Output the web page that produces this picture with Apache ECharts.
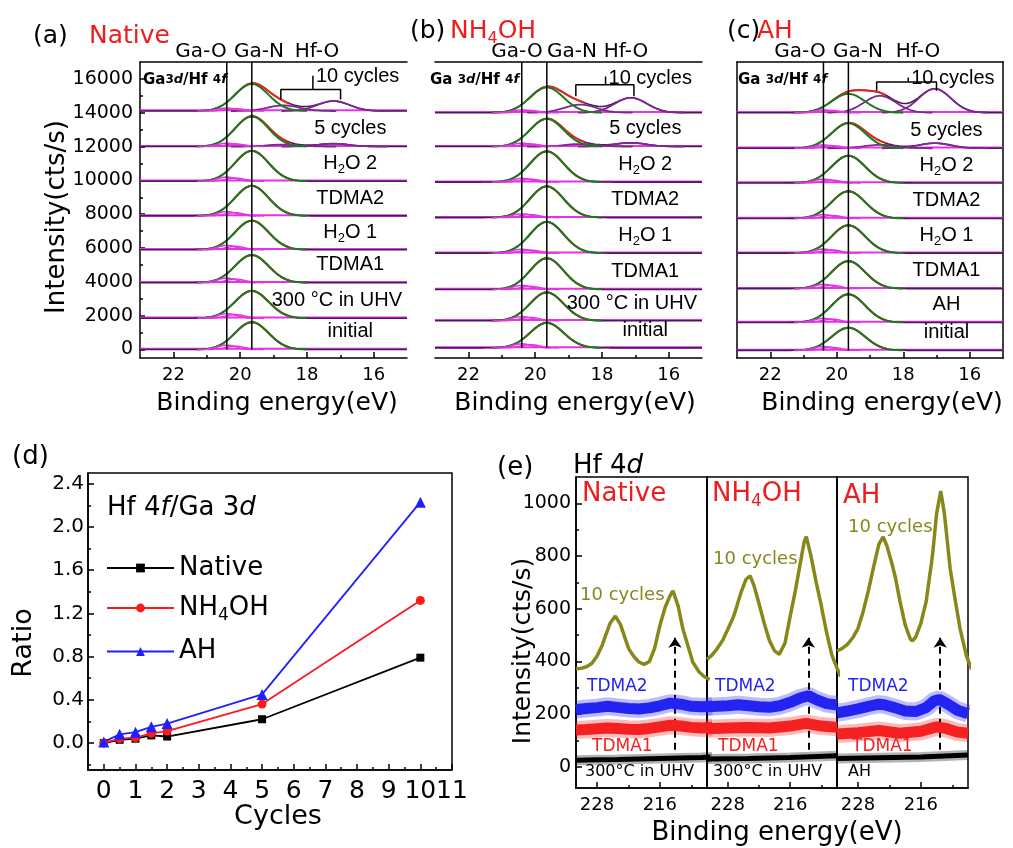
<!DOCTYPE html>
<html>
<head>
<meta charset="utf-8">
<title>Ga 3d / Hf 4f and Hf 4d spectra during HfO2 ALD on GaN</title>
<script src="https://cdn.jsdelivr.net/npm/echarts@6.0.0/dist/echarts.min.js"></script>
<style>
  html, body { margin: 0; padding: 0; background: #fff; }
  #chart { width: 1013px; height: 848px; }
</style>
</head>
<body>
<div id="chart"></div>
<script>
// ================= data =================

// (a)-(c): Ga 3d / Hf 4f core levels, one spectrum per process step (bottom to top)
const STEPS_UHV = ['initial', '300 °C in UHV', 'TDMA1', 'H2O 1', 'TDMA2', 'H2O 2', '5 cycles', '10 cycles'];
const STEPS_AH  = ['initial', 'AH', 'TDMA1', 'H2O 1', 'TDMA2', 'H2O 2', '5 cycles', '10 cycles'];

// stacking offset of each spectrum (cts/s)
const OFFSET_NATIVE = [0, 1850, 3950, 5900, 7900, 9950, 12000, 14100];
const OFFSET_NH4OH  = [100, 1700, 3550, 5700, 7800, 9900, 12000, 14000];
const OFFSET_AH     = [-50, 1600, 3600, 5700, 7750, 9850, 11900, 14000];

// fitted Ga-N component height (cts/s above the offset)
const GAN_NATIVE = [1620, 1620, 1640, 1720, 1780, 1800, 1780, 1600];
const GAN_NH4OH  = [1480, 1680, 1850, 1850, 1850, 1820, 1640, 1500];
const GAN_AH     = [1340, 1670, 1630, 1650, 1610, 1610, 1480, 1120];

// Ga-O components (two small contributions on the high binding-energy side)
const GAO_NATIVE  = [260, 280, 280, 260, 250, 250, 200, 180];
const GAO_NH4OH   = [240, 250, 240, 230, 230, 220, 200, 170];
const GAO_AH      = [230, 250, 250, 240, 230, 220, 200, 170];
const GAO2_NATIVE = [200, 220, 220, 200, 190, 190, 160, 140];
const GAO2_NH4OH  = [190, 200, 190, 180, 180, 170, 160, 130];
const GAO2_AH     = [180, 200, 200, 190, 180, 170, 160, 130];

// Hf-O doublet (Hf 4f5/2, Hf 4f7/2) heights
const HF52_NATIVE = [0, 0, 0, 0, 0, 0, 120, 330];
const HF72_NATIVE = [0, 0, 0, 0, 0, 0, 170, 590];
const HF52_NH4OH  = [0, 0, 0, 0, 0, 0, 150, 480];
const HF72_NH4OH  = [0, 0, 0, 0, 0, 0, 220, 885];
const HF52_AH     = [0, 0, 0, 0, 0, 0, 200, 1000];
const HF72_AH     = [0, 0, 0, 0, 0, 0, 300, 1420];

// component binding energies (eV) and Gaussian widths (sigma, eV)
const BE_GAO = [20.4, 20.15];
const BE_GAN = 19.65;
const BE_HF_NATIVE = [18.7, 17.2];
const BE_HF_NH4OH  = [18.65, 17.13];
const BE_HF_AH     = [18.7, 17.05];
const SIGMA_GAN = 0.5, SIGMA_GAO = 0.28, SIGMA_HF = 0.48;

// (d): Hf 4f / Ga 3d intensity ratio versus ALD cycles
const CYCLES       = [0, 0.5, 1, 1.5, 2, 5, 10];
const RATIO_NATIVE = [0.00, 0.03, 0.04, 0.07, 0.06, 0.22, 0.79];
const RATIO_NH4OH  = [0.00, 0.04, 0.05, 0.09, 0.11, 0.36, 1.32];
const RATIO_AH     = [0.01, 0.08, 0.10, 0.15, 0.18, 0.45, 2.23];

// (e): Hf 4d spectra, [binding energy (eV), intensity (cts/s)]
const HF4D_10CYC_NATIVE = [[232,372],[231,374],[230,380],[229,392],[228,420],[227,462],[226.4,496],[225.5,545],[224.5,572],[223.5,540],[222.5,480],[221.9,447],[221,420],[220,398],[219,389],[218,400],[217,450],[216,536],[215,605],[214,652],[213.5,668],[212.5,610],[211.6,523],[210.5,450],[209.7,397],[208.5,360],[207.5,342],[206.5,332]];
const HF4D_10CYC_NH4OH  = [[232,408],[231,425],[230,450],[229,480],[228,522],[227,565],[226.6,588],[225.5,660],[224.5,712],[223.7,725],[223,690],[222,620],[221,545],[220,480],[219,440],[218.1,427],[217,470],[216,572],[215,670],[214,780],[213.3,855],[212.9,874],[212,800],[211,700],[210,610],[209.8,588],[209,510],[208,425],[207,375],[206.3,343]];
const HF4D_10CYC_AH     = [[232,440],[231,450],[230,465],[229,490],[228,525],[227,590],[226,670],[225,760],[224,845],[223.2,873],[222.5,840],[221.5,770],[220.8,714],[220,630],[219,540],[218,485],[217.6,478],[217,492],[216,545],[215,626],[214,770],[213.7,817],[213,960],[212.2,1047],[211.5,960],[210.4,752],[209.5,640],[208.5,523],[207.3,421],[206.3,370]];

const HF4D_TDMA2_NATIVE = [[232,218],[230,222],[228,225],[226,230],[224,226],[222,222],[220,220],[218,224],[216,232],[214,242],[212,238],[210,230],[208,228],[206,230]];
const HF4D_TDMA2_NH4OH  = [[232,228],[230,230],[228,232],[226,236],[224,232],[222,228],[220,226],[218,232],[216,245],[214,262],[212.5,270],[211,255],[209,240],[207,235]];
const HF4D_TDMA2_AH     = [[232,205],[230,212],[228,220],[226,230],[224,238],[223,236],[221,225],[219,212],[217,210],[215,225],[213.5,250],[212.5,256],[211,240],[209,215],[207,202]];

const HF4D_TDMA1_NATIVE = [[232,140],[230,142],[228,145],[226,148],[224,146],[222,143],[220,142],[218,146],[216,152],[214,158],[212,155],[210,150],[208,148],[206,150]];
const HF4D_TDMA1_NH4OH  = [[232,145],[228,148],[224,150],[220,148],[216,155],[213,165],[210,155],[207,150]];
const HF4D_TDMA1_AH     = [[232,125],[228,130],[224,138],[220,128],[216,135],[213,152],[211,145],[209,132],[207,128]];

const HF4D_START_NATIVE = [[232,25],[228,27],[224,28],[220,30],[216,32],[212,34],[208,36],[206,38]];
const HF4D_START_NH4OH  = [[232,30],[224,32],[216,36],[207,42]];
const HF4D_START_AH     = [[232,32],[224,35],[216,38],[207,45]];

// tick values
const TICKS_BE   = [16, 18, 20, 22];
const MINOR_BE   = [17, 19, 21];
const TICKS_INT  = [0, 2000, 4000, 6000, 8000, 10000, 12000, 14000, 16000];
const MINOR_INT  = [1000, 3000, 5000, 7000, 9000, 11000, 13000, 15000];
const TICKS_CYC  = [0, 1, 2, 3, 4, 5, 6, 7, 8, 9, 10, 11];
const MINOR_CYC  = [0.5, 1.5, 2.5, 3.5, 4.5, 5.5, 6.5, 7.5, 8.5, 9.5, 10.5];
const TICKS_RATIO = [0, 0.4, 0.8, 1.2, 1.6, 2.0, 2.4];
const MINOR_RATIO = [-0.2, 0.2, 0.6, 1.0, 1.4, 1.8, 2.2];
const TICKS_HF4D  = [228, 216];
const MINOR_HF4D  = [222, 210];
const TICKS_HF4D_INT = [0, 200, 400, 600, 800, 1000];
const MINOR_HF4D_INT = [100, 300, 500, 700, 900];

// ================= layout & style =================
const FONT = 'DejaVu Sans, Liberation Sans, Arial, sans-serif';
const LABEL_FONT = 'Liberation Sans, Arial, sans-serif';
const INK = '#000000';
const TITLE_RED = '#ee1c1c';
const C_MAGENTA = '#e632e6', C_DATA = '#4d1660', C_HF = '#7a2a8a', C_GREEN = '#1d7a1d', C_FIT = '#e8231d';
const C_OLIVE = '#87871a', C_BLUE = '#2323f2', C_RED = '#f52020';

const GRID_TOP = [[140, 62, 267, 296], [435, 62, 267, 296], [737, 62, 266, 296]];
const GRID_D = [88, 473, 364, 297];
const GRID_E = [[576, 477, 131, 311], [707, 477, 130, 311], [837, 477, 131, 311]];

// Hf-O bracket over the 10-cycle spectrum (data units)
const BRACKETS = [
  { l: 18.78, r: 16.99, m: 17.82, leg: 14780, bar: 15370, top: 16190 },
  { l: 18.78, r: 17.04, m: 17.89, leg: 14970, bar: 15660, top: 16150 },
  { l: 18.80, r: 17.00, m: 17.85, leg: 15300, bar: 15820, top: 16090 }
];
const STEP_LABEL_BE = 16.7;   // centre of the step-label column
const STEP_LABEL_LIFT = 1050; // label height above its spectrum
const ARROW_BE = [213.1, 212.5, 212.3];

const TOP = [
  { steps: STEPS_UHV, offset: OFFSET_NATIVE, gaN: GAN_NATIVE, gaO: GAO_NATIVE, gaO2: GAO2_NATIVE, hf52: HF52_NATIVE, hf72: HF72_NATIVE, beHf: BE_HF_NATIVE },
  { steps: STEPS_UHV, offset: OFFSET_NH4OH,  gaN: GAN_NH4OH,  gaO: GAO_NH4OH,  gaO2: GAO2_NH4OH,  hf52: HF52_NH4OH,  hf72: HF72_NH4OH,  beHf: BE_HF_NH4OH },
  { steps: STEPS_AH,  offset: OFFSET_AH,     gaN: GAN_AH,     gaO: GAO_AH,     gaO2: GAO2_AH,     hf52: HF52_AH,     hf72: HF72_AH,     beHf: BE_HF_AH }
];
const HF4D = [
  { c10: HF4D_10CYC_NATIVE, tdma2: HF4D_TDMA2_NATIVE, tdma1: HF4D_TDMA1_NATIVE, start: HF4D_START_NATIVE },
  { c10: HF4D_10CYC_NH4OH,  tdma2: HF4D_TDMA2_NH4OH,  tdma1: HF4D_TDMA1_NH4OH,  start: HF4D_START_NH4OH },
  { c10: HF4D_10CYC_AH,     tdma2: HF4D_TDMA2_AH,     tdma1: HF4D_TDMA1_AH,     start: HF4D_START_AH }
];

// ================= helpers =================
const gauss = (e, c, h, s) => h * Math.exp(-((e - c) * (e - c)) / (2 * s * s));
const ENERGY_GRID = [];
for (let k = 0; k <= 200; k++) ENERGY_GRID.push(+(15 + k * 0.04).toFixed(2));

// turn "H2O 1" / "NH4OH" into rich text with a subscript digit
function toRich(str) {
  return str.split(/(\d(?=[A-Z]))/).map((s, k) => (k % 2 ? '{s|' + s + '}' : (s ? '{m|' + s + '}' : ''))).join('');
}
function richStyle(size, color, family) {
  const sub = Math.round(size * 0.64);
  const base = { fontFamily: family || FONT, color: color, fill: color, verticalAlign: 'middle', textBorderWidth: 0 };
  return {
    m: Object.assign({ fontSize: size }, base),
    s: Object.assign({ fontSize: sub, padding: [Math.round(size * 0.62), 0, 0, 0] }, base),
    i: Object.assign({ fontSize: size, fontStyle: 'italic' }, base),
    b: Object.assign({ fontSize: 15, fontWeight: 'bold' }, base),
    bs: Object.assign({ fontSize: 12, fontWeight: 'bold' }, base),
    bi: Object.assign({ fontSize: 13, fontWeight: 'bold', fontStyle: 'italic' }, base)
  };
}
function txt(x, y, text, o) {
  o = o || {};
  const size = o.size || 20, color = o.color || INK, family = o.family || FONT;
  return {
    type: 'text', x: x, y: y, silent: true, z: 100, rotation: o.rot || 0,
    style: {
      text: text, fill: color, fontSize: size, fontFamily: family,
      align: o.align || 'left', verticalAlign: 'middle', rich: richStyle(size, color, family)
    }
  };
}
const measureCtx = document.createElement('canvas').getContext('2d');
function textWidth(str, size, family) {
  measureCtx.font = size + 'px ' + family;
  return measureCtx.measureText(str).width;
}

const option = {
  animation: false, backgroundColor: '#ffffff',
  grid: [], xAxis: [], yAxis: [], series: [], graphic: [],
  legend: {
    show: true, data: ['Native', 'NH4OH', 'AH'], orient: 'vertical', left: 106, top: 555,
    itemWidth: 67, itemHeight: 11, itemGap: 14, padding: 0, selectedMode: false,
    formatter: n => toRich(n),
    textStyle: { fontSize: 26, fontFamily: FONT, color: INK, rich: richStyle(26, INK) }
  }
};
const S = option.series, G = option.graphic;

function addGrid(r, box) {
  option.grid.push({ left: r[0], top: r[1], width: r[2], height: r[3], show: !!box, borderColor: INK, borderWidth: 1.5, backgroundColor: 'transparent' });
  return option.grid.length - 1;
}
const LINE = { show: true, onZero: false, lineStyle: { color: INK, width: 1.5 } };
const ticks = (vals, len) => ({ show: true, inside: true, length: len, customValues: vals, lineStyle: { color: INK, width: 1.5 } });
const labels = (vals, size, margin, fmt) => ({ show: true, customValues: vals, fontSize: size, fontFamily: FONT, color: INK, margin: margin, formatter: fmt || (v => String(v)) });
function axis(list, gi, min, max, extra) {
  list.push(Object.assign({
    gridIndex: gi, type: 'value', min: min, max: max,
    axisLine: { show: false, onZero: false }, axisTick: { show: false }, axisLabel: { show: false },
    splitLine: { show: false }, minorTick: { show: false }, minorSplitLine: { show: false }
  }, extra));
  return list.length - 1;
}
function line(xi, yi, data, color, width, z, extra) {
  return Object.assign({
    type: 'line', xAxisIndex: xi, yAxisIndex: yi, data: data, symbol: 'none', z: z, silent: true,
    lineStyle: { color: color, width: width }, itemStyle: { color: color }, emphasis: { disabled: true }
  }, extra || {});
}

// ================= (a)-(c) stacked Ga 3d / Hf 4f spectra =================
const topAxes = [];
TOP.forEach((pd, p) => {
  const gi = addGrid(GRID_TOP[p], false);
  const xi = axis(option.xAxis, gi, 15, 23, { inverse: true, position: 'bottom', axisLine: LINE, axisTick: ticks(TICKS_BE, 6), axisLabel: labels(TICKS_BE, 18, 8) });
  axis(option.xAxis, gi, 15, 23, { inverse: true, position: 'bottom', axisTick: ticks(MINOR_BE, 3) });
  axis(option.xAxis, gi, 15, 23, { inverse: true, position: 'top', axisLine: LINE });
  let yi;
  if (p === 0) {
    yi = axis(option.yAxis, gi, -500, 17000, { position: 'left', axisLine: LINE, axisTick: ticks(TICKS_INT, 5), axisLabel: labels(TICKS_INT, 19, 7) });
    axis(option.yAxis, gi, -500, 17000, { position: 'left', axisTick: ticks(MINOR_INT, 3) });
  } else if (p === 1) {
    yi = axis(option.yAxis, gi, -500, 17000, { position: 'left' });
  } else {
    yi = axis(option.yAxis, gi, -500, 17000, { position: 'left', axisLine: LINE });
    axis(option.yAxis, gi, -500, 17000, { position: 'right', axisLine: LINE });
  }
  topAxes.push({ xi: xi, yi: yi });

  pd.offset.forEach((off, i) => {
    const env = e => off + gauss(e, BE_GAN, pd.gaN[i], SIGMA_GAN)
      + gauss(e, pd.beHf[0], pd.hf52[i], SIGMA_HF) + gauss(e, pd.beHf[1], pd.hf72[i], SIGMA_HF);
    // background and measured envelope
    S.push(line(xi, yi, [[15, off + 40], [23, off + 40]], C_MAGENTA, 2, 2));
    S.push(line(xi, yi, ENERGY_GRID.map(e => [e, env(e)]), C_DATA, 1.6, 3));
    // fit sum where Ga-N and Hf-O overlap
    S.push(line(xi, yi, ENERGY_GRID.filter(e => e >= 18.5 && e <= 20.25).map(e => [e, env(e)]), C_FIT, 2, 4));
    // Hf-O doublet
    [pd.hf52[i], pd.hf72[i]].forEach((h, k) => {
      if (h > 0) {
        const c = pd.beHf[k];
        S.push(line(xi, yi, ENERGY_GRID.filter(e => Math.abs(e - c) <= 1.6).map(e => [e, off + gauss(e, c, h, SIGMA_HF)]), C_HF, 1.8, 5));
      }
    });
    // Ga-N component
    S.push(line(xi, yi, ENERGY_GRID.filter(e => e >= 18.0 && e <= 21.3).map(e => [e, off + gauss(e, BE_GAN, pd.gaN[i], SIGMA_GAN)]), C_GREEN, 2, 6));
    // Ga-O components
    [[BE_GAO[0], pd.gaO[i]], [BE_GAO[1], pd.gaO2[i]]].forEach(([c, h]) => {
      S.push(line(xi, yi, ENERGY_GRID.filter(e => Math.abs(e - c) <= 0.9).map(e => [e, off + gauss(e, c, h, SIGMA_GAO)]), C_MAGENTA, 1.5, 7));
    });
  });

  // Ga-O and Ga-N reference lines
  [BE_GAO[0], BE_GAN].forEach(be => S.push(line(xi, yi, [[be, pd.offset[0]], [be, 17000]], INK, 1.5, 8)));
  // Hf-O bracket
  const b = BRACKETS[p];
  S.push(line(xi, yi, [[b.l, b.leg], [b.l, b.bar], [b.r, b.bar], [b.r, b.leg]], INK, 1.5, 8));
  S.push(line(xi, yi, [[b.m, b.bar], [b.m, b.top]], INK, 1.5, 8));
});

// ================= (d) ratio vs cycles =================
{
  const gi = addGrid(GRID_D, true);
  const xi = axis(option.xAxis, gi, -0.5, 11, { position: 'bottom', axisLine: LINE, axisTick: ticks(TICKS_CYC, 6), axisLabel: labels(TICKS_CYC, 25, 9) });
  axis(option.xAxis, gi, -0.5, 11, { position: 'bottom', axisTick: ticks(MINOR_CYC, 3) });
  const yi = axis(option.yAxis, gi, -0.25, 2.5, { position: 'left', axisLine: LINE, axisTick: ticks(TICKS_RATIO, 6), axisLabel: labels(TICKS_RATIO, 20, 4, v => v.toFixed(1)) });
  axis(option.yAxis, gi, -0.25, 2.5, { position: 'left', axisTick: ticks(MINOR_RATIO, 3) });
  [['Native', RATIO_NATIVE, INK, 'rect', 8], ['NH4OH', RATIO_NH4OH, '#ff1a1a', 'circle', 9], ['AH', RATIO_AH, '#1f1fff', 'triangle', 11]]
    .forEach(([name, vals, color, sym, size]) => {
      S.push({
        type: 'line', name: name, xAxisIndex: xi, yAxisIndex: yi, silent: true, z: 5,
        data: CYCLES.map((c, k) => [c, vals[k]]), symbol: sym, symbolSize: size, showSymbol: true,
        lineStyle: { color: color, width: 1.8 }, itemStyle: { color: color }, emphasis: { disabled: true }
      });
    });
}

// ================= (e) Hf 4d =================
HF4D.forEach((pd, q) => {
  const gi = addGrid(GRID_E[q], true);
  const xi = axis(option.xAxis, gi, 207, 232, { inverse: true, position: 'bottom', axisLine: LINE, axisTick: ticks(TICKS_HF4D, 6), axisLabel: labels(TICKS_HF4D, 18, 8) });
  axis(option.xAxis, gi, 207, 232, { inverse: true, position: 'bottom', axisTick: ticks(MINOR_HF4D, 3) });
  let yi;
  if (q === 0) {
    yi = axis(option.yAxis, gi, -80, 1100, { position: 'left', axisLine: LINE, axisTick: ticks(TICKS_HF4D_INT, 6), axisLabel: labels(TICKS_HF4D_INT, 19, 5) });
    axis(option.yAxis, gi, -80, 1100, { position: 'left', axisTick: ticks(MINOR_HF4D_INT, 3) });
  } else {
    yi = axis(option.yAxis, gi, -80, 1100, { position: 'left', axisLine: LINE });
  }
  // noisy traces: a faint band with a solid core
  [[pd.start, INK, 10, 5], [pd.tdma1, C_RED, 18, 11], [pd.tdma2, C_BLUE, 18, 11]].forEach(([d, color, wBand, wCore], k) => {
    S.push(line(xi, yi, d, color, wBand, 2 + k * 2, { lineStyle: { color: color, width: wBand, opacity: 0.3 } }));
    S.push(line(xi, yi, d, color, wCore, 3 + k * 2));
  });
  S.push(line(xi, yi, pd.c10, C_OLIVE, 3.5, 10, {
    markLine: {
      silent: true, symbol: ['none', 'arrow'], symbolSize: 10, label: { show: false },
      lineStyle: { color: INK, width: 2, type: [7, 5] },
      data: [[{ coord: [ARROW_BE[q], 65] }, { coord: [ARROW_BE[q], 490] }]]
    }
  }));
});

// ================= text =================
// (a)-(c) headings
G.push(txt(33, 36, '(a)', { size: 25 }));
G.push(txt(89, 36, 'Native', { size: 25, color: TITLE_RED }));
G.push(txt(410, 31, '(b)', { size: 25 }));
G.push(txt(450, 31, toRich('NH4OH'), { size: 25, color: TITLE_RED }));
G.push(txt(727, 31, '(c)', { size: 25 }));
G.push(txt(757, 31, 'AH', { size: 25, color: TITLE_RED }));
[[201, 259, 317], [517, 572, 626], [800, 858, 918]].forEach(xsPos => {
  ['Ga-O', 'Ga-N', 'Hf-O'].forEach((t, k) => G.push(txt(xsPos[k], 52, t, { size: 20, align: 'center' })));
});
G.push(txt(143, 80, '{b|Ga}{bs|3}{bi|d}{b|/Hf }{bs|4}{bi|f}', { size: 15 }));
G.push(txt(430, 80, '{b|Ga }{bs|3}{bi|d}{b|/Hf }{bs|4}{bi|f}', { size: 15 }));
G.push(txt(738, 80, '{b|Ga }{bs|3}{bi|d}{b|/Hf }{bs|4}{bi|f}', { size: 15 }));
G.push(txt(57, 217, 'Intensity(cts/s)', { size: 26, align: 'center', rot: Math.PI / 2 }));
[277, 575, 882].forEach(x => G.push(txt(x, 403, 'Binding energy(eV)', { size: 25, align: 'center' })));

// (d)
G.push(txt(12, 457, '(d)', { size: 26 }));
G.push(txt(107, 508, '{m|Hf 4}{i|f}{m|/Ga 3}{i|d}', { size: 26 }));
G.push(txt(24, 643, 'Ratio', { size: 27, align: 'center', rot: Math.PI / 2 }));
G.push(txt(278, 817, 'Cycles', { size: 27, align: 'center' }));

// (e)
G.push(txt(497, 468, '(e)', { size: 26 }));
G.push(txt(573, 466, '{m|Hf 4}{i|d}', { size: 26 }));
G.push(txt(523, 651, 'Intensity(cts/s)', { size: 25, align: 'center', rot: Math.PI / 2 }));
G.push(txt(777, 833, 'Binding energy(eV)', { size: 26, align: 'center' }));
[[582, 494, 'Native'], [712, 494, 'NH4OH'], [843, 496, 'AH']].forEach(([x, y, t]) => G.push(txt(x, y, toRich(t), { size: 26, color: TITLE_RED })));
[[580, 595], [713, 559], [848, 527]].forEach(([x, y]) => G.push(txt(x, y, '10 cycles', { size: 18, color: C_OLIVE })));
[587, 715, 848].forEach(x => G.push(txt(x, 687, 'TDMA2', { size: 17, color: C_BLUE })));
[592, 718, 852].forEach(x => G.push(txt(x, 747, 'TDMA1', { size: 17, color: C_RED })));
[[585, '300°C in UHV'], [713, '300°C in UHV'], [848, 'AH']].forEach(([x, t]) => G.push(txt(x, 772, t, { size: 16 })));

const chart = echarts.init(document.getElementById('chart'), null, { renderer: 'canvas' });
chart.setOption(option);

// step labels of (a)-(c), placed through each panel's axes
const STEP_SIZE = 20;
TOP.forEach((pd, p) => {
  const ax = { xAxisIndex: topAxes[p].xi, yAxisIndex: topAxes[p].yi };
  const rightEdge = GRID_TOP[p][0] + GRID_TOP[p][2];
  pd.steps.forEach((name, i) => {
    if (i < pd.steps.length - 1) {
      const pt = chart.convertToPixel(ax, [STEP_LABEL_BE, pd.offset[i] + STEP_LABEL_LIFT]);
      const w = textWidth(name, STEP_SIZE, LABEL_FONT);
      const cx = Math.min(pt[0], rightEdge - 5 - w / 2);
      G.push(txt(cx, pt[1], toRich(name), { size: STEP_SIZE, align: 'center', family: LABEL_FONT }));
    } else {
      const pt = chart.convertToPixel(ax, [BRACKETS[p].m, pd.offset[i] + 2050]);
      G.push(txt(pt[0] + 3, pt[1], toRich(name), { size: STEP_SIZE, family: LABEL_FONT }));
    }
  });
});
chart.setOption({ graphic: G });
</script>
</body>
</html>
